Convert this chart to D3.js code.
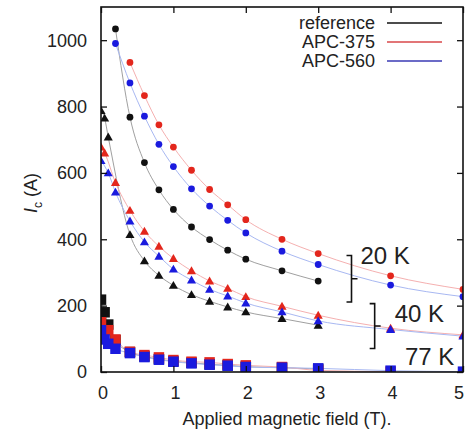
<!DOCTYPE html>
<html>
<head>
<meta charset="utf-8">
<title>Ic vs applied field</title>
<script src="https://d3js.org/d3.v7.min.js"></script>
<style>
  body { margin: 0; background: #fff; }
  svg text { font-family: "Liberation Sans", Arial, sans-serif; fill: #222; }
</style>
</head>
<body>
<svg id="chart" width="465" height="434"></svg>
<script>
// applied field (T) vs critical current Ic (A)
// 20 K  (circles)
const ref20    = [[0.2,1034],[0.4,768],[0.6,631],[0.8,549],[1.0,490],[1.25,437],[1.5,399],[1.75,367],[2.0,340],[2.5,305],[3.0,274]];
const apc375_20 = [[0.4,933],[0.6,833],[0.8,745],[1.0,678],[1.25,608],[1.5,550],[1.75,504],[2.0,459],[2.5,400],[3.0,357],[4.0,290],[5.0,249]];
const apc560_20 = [[0.2,990],[0.4,871],[0.6,771],[0.8,686],[1.0,619],[1.25,552],[1.5,500],[1.75,457],[2.0,419],[2.5,364],[3.0,324],[4.0,262],[5.0,227]];
// 40 K  (triangles)
const ref40    = [[0,788],[0.05,765],[0.1,708],[0.4,414],[0.6,335],[0.8,291],[1.0,261],[1.25,233],[1.5,213],[1.75,196],[2.0,181],[2.5,161],[3.0,141]];
const apc375_40 = [[0,678],[0.05,660],[0.2,571],[0.4,487],[0.6,424],[0.8,379],[1.0,342],[1.25,305],[1.5,274],[1.75,252],[2.0,227],[2.5,198],[3.0,171],[4.0,132],[5.0,112]];
const apc560_40 = [[0,637],[0.1,600],[0.2,542],[0.4,455],[0.6,392],[0.8,349],[1.0,310],[1.25,277],[1.5,249],[1.75,229],[2.0,208],[2.5,181],[3.0,154],[4.0,128],[5.0,108]];
// 77 K  (squares)
const ref77    = [[0,218],[0.05,180],[0.1,143],[0.2,96],[0.4,60],[0.6,47],[0.8,39],[1.0,32],[1.25,28],[1.5,23],[1.75,20],[2.0,16],[2.5,13],[3.0,9]];
const apc375_77 = [[0,150],[0.1,126],[0.2,98],[0.4,61],[0.6,51],[0.8,44],[1.0,36],[1.25,31],[1.5,29],[1.75,24],[2.0,20],[2.5,15],[3.0,5],[4.0,1]];
const apc560_77 = [[0,126],[0.05,98],[0.1,85],[0.2,70],[0.4,57],[0.6,45],[0.8,37],[1.0,31],[1.25,26],[1.5,22],[1.75,19],[2.0,15],[2.5,13],[3.0,11],[4.0,4],[5.0,1]];

const sampleNames = ["reference", "APC-375", "APC-560"];
const xTicks = [0, 1, 2, 3, 4, 5];
const yTicks = [0, 200, 400, 600, 800, 1000];
// temperature brackets: [label, field, Ic top, Ic bottom]
const groupLabels = [["20 K", 3.46, 351, 211], ["40 K", 3.78, 206, 71]];

const markColor = {"reference": "#111", "APC-375": "#e3261c", "APC-560": "#1a1ade"};
const fitColor  = {"reference": "#a0a0a0", "APC-375": "#f5b0b0", "APC-560": "#a8b8f2"};
const legendColor = {"reference": "#111", "APC-375": "#d9474a", "APC-560": "#3a3ab4"};

const series = [
  {name: "reference", shape: "circle",   data: ref20},
  {name: "APC-375",   shape: "circle",   data: apc375_20},
  {name: "APC-560",   shape: "circle",   data: apc560_20},
  {name: "reference", shape: "triangle", data: ref40},
  {name: "APC-375",   shape: "triangle", data: apc375_40},
  {name: "APC-560",   shape: "triangle", data: apc560_40},
  {name: "reference", shape: "square",   data: ref77},
  {name: "APC-375",   shape: "square",   data: apc375_77},
  {name: "APC-560",   shape: "square",   data: apc560_77}
];

const svg = d3.select("#chart");
const pLeft = 101, pRight = 463, pTop = 7, pBottom = 372;

const x = d3.scaleLinear().domain([0, 5]).range([pLeft, pRight]);
const y = d3.scaleLinear().domain([0, 1100]).range([pBottom, pTop]);

// clip to plot frame
svg.append("clipPath").attr("id", "plotclip")
  .append("rect").attr("x", pLeft).attr("y", pTop)
  .attr("width", pRight - pLeft).attr("height", pBottom - pTop);

const plot = svg.append("g").attr("clip-path", "url(#plotclip)");

// fit lines
const line = d3.line().x(d => x(d[0])).y(d => y(d[1])).curve(d3.curveMonotoneX);
plot.selectAll("path.fit")
  .data(series)
  .join("path")
  .attr("class", "fit")
  .attr("d", s => line(s.data))
  .attr("fill", "none")
  .attr("stroke", s => fitColor[s.name])
  .attr("stroke-width", 1);

// markers
const symbolType = {circle: d3.symbolCircle, triangle: d3.symbolTriangle, square: d3.symbolSquare};
const symbolSize = {circle: 36, triangle: 36, square: 110};
series.forEach(s => {
  const sym = d3.symbol().type(symbolType[s.shape]).size(symbolSize[s.shape]);
  plot.append("g").selectAll("path")
    .data(s.data)
    .join("path")
    .attr("transform", d => `translate(${x(d[0])},${y(d[1]) + (s.shape === "triangle" ? 0.8 : 0)})`)
    .attr("d", sym)
    .attr("fill", markColor[s.name]);
});

// frame
svg.append("rect")
  .attr("x", pLeft).attr("y", pTop)
  .attr("width", pRight - pLeft).attr("height", pBottom - pTop)
  .attr("fill", "none").attr("stroke", "#111").attr("stroke-width", 1.6);

// axes, ticks pointing inward on all sides
svg.append("g").attr("transform", `translate(0,${pBottom})`)
  .call(d3.axisTop(x).tickValues(xTicks).tickSize(6).tickFormat(""))
  .call(g => g.select(".domain").remove());
svg.append("g").attr("transform", `translate(0,${pTop})`)
  .call(d3.axisBottom(x).tickValues(xTicks).tickSize(6).tickFormat(""))
  .call(g => g.select(".domain").remove());
svg.append("g").attr("transform", `translate(${pLeft},0)`)
  .call(d3.axisRight(y).tickValues(yTicks).tickSize(6).tickFormat(""))
  .call(g => g.select(".domain").remove());
svg.append("g").attr("transform", `translate(${pRight},0)`)
  .call(d3.axisLeft(y).tickValues(yTicks).tickSize(6).tickFormat(""))
  .call(g => g.select(".domain").remove());
svg.selectAll(".tick line").attr("stroke", "#111").attr("stroke-width", 1.3);

// tick labels (last one pulled in so it stays on the page)
svg.append("g").selectAll("text")
  .data(xTicks)
  .join("text")
  .attr("x", d => Math.min(x(d) + 2, 459))
  .attr("y", 399)
  .attr("text-anchor", "middle")
  .attr("font-size", 18)
  .text(d => d);

svg.append("g").selectAll("text")
  .data(yTicks)
  .join("text")
  .attr("x", 87)
  .attr("y", d => y(d))
  .attr("dy", "0.36em")
  .attr("text-anchor", "end")
  .attr("font-size", 18)
  .text(d => d);

// axis titles
svg.append("text")
  .attr("x", 287).attr("y", 425)
  .attr("text-anchor", "middle")
  .attr("font-size", 18)
  .text("Applied magnetic field (T).");

const yt = svg.append("text")
  .attr("transform", "translate(37,193) rotate(-90)")
  .attr("text-anchor", "middle")
  .attr("font-size", 18);
yt.append("tspan").attr("font-style", "italic").text("I");
yt.append("tspan").attr("font-size", 12).attr("dy", 5).text("c");
yt.append("tspan").attr("dy", -5).text(" (A)");

// legend
const legend = svg.append("g").selectAll("g")
  .data(sampleNames)
  .join("g")
  .attr("transform", (d, i) => `translate(0,${23 + i * 19})`);
legend.append("text")
  .attr("x", 375).attr("dy", "0.35em")
  .attr("text-anchor", "end")
  .attr("font-size", 18)
  .text(d => d);
legend.append("line")
  .attr("x1", 387).attr("x2", 442)
  .attr("stroke", d => legendColor[d])
  .attr("stroke-width", 1.5);

// temperature brackets
const br = svg.append("g").selectAll("g").data(groupLabels).join("g");
br.append("path")
  .attr("d", d => {
    const bx = x(d[1]), y1 = y(d[2]), y2 = y(d[3]), ym = (y1 + y2) / 2;
    return `M${bx - 5},${y1}H${bx}V${y2}H${bx - 5}M${bx},${ym}H${bx + 6}`;
  })
  .attr("fill", "none").attr("stroke", "#111").attr("stroke-width", 1.6);
br.append("text")
  .attr("x", d => x(d[1]) + 9 + (d[0] === "40 K" ? 11 : 0))
  .attr("y", d => d[0] === "20 K" ? y(d[2]) + 8 : y(d[2]) + 18)
  .attr("font-size", 24)
  .text(d => d[0]);

svg.append("text")
  .attr("x", 405).attr("y", 365)
  .attr("font-size", 24)
  .text("77 K");
</script>
</body>
</html>
